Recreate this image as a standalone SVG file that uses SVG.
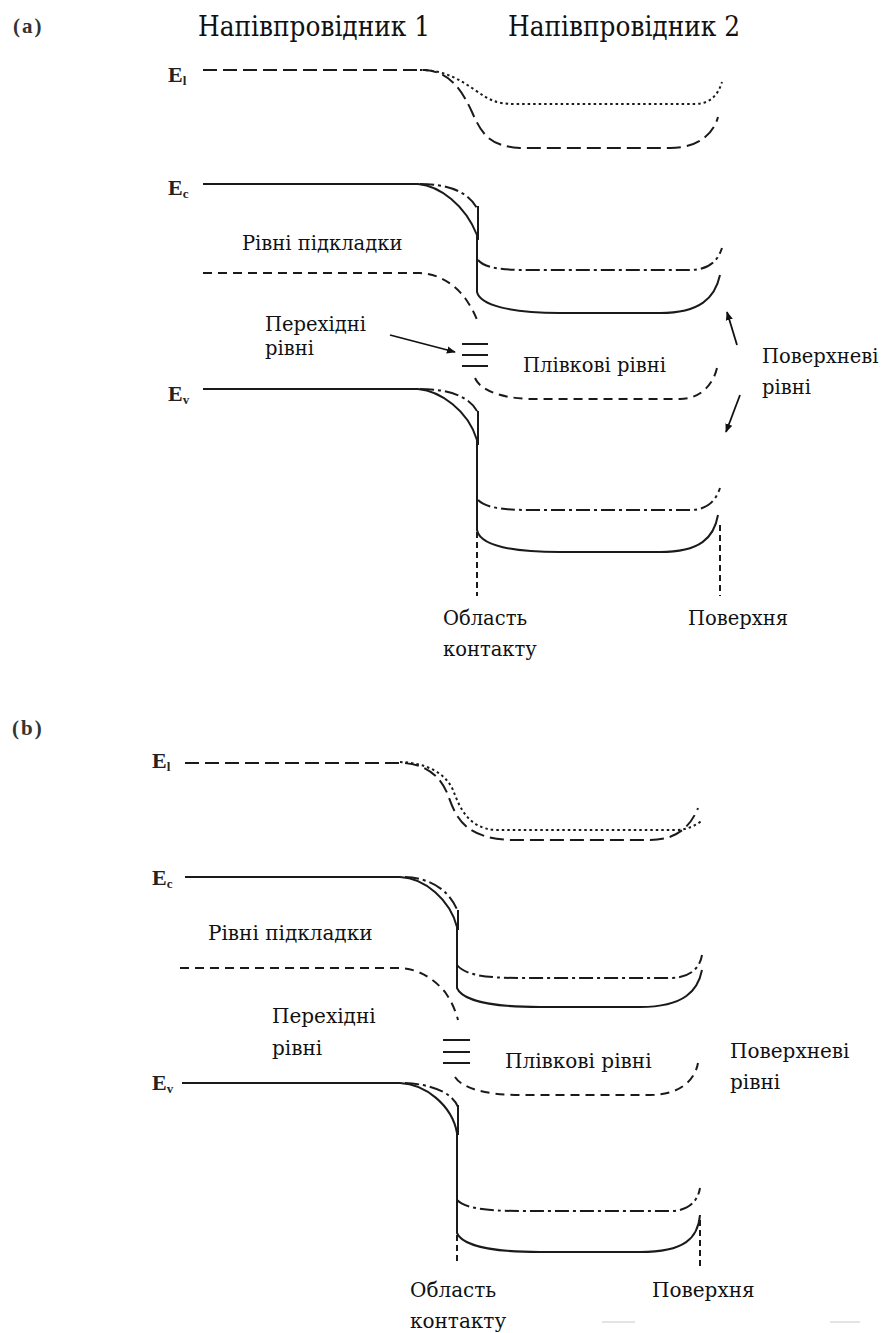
<svg xmlns="http://www.w3.org/2000/svg" width="884" height="1333" viewBox="0 0 884 1333">
<defs>
<marker id="ah" viewBox="0 0 10 10" refX="9" refY="5" markerWidth="5" markerHeight="5" orient="auto" markerUnits="strokeWidth"><path d="M0,1 L10,5 L0,9 z" fill="#111"/></marker>
</defs>
<style>
.t{font-family:"DejaVu Serif",serif;font-size:19.5px;fill:#111}
.tb{font-family:"DejaVu Serif",serif;font-size:20px;fill:#111}
.h{font-family:"DejaVu Serif",serif;font-size:28px;fill:#111}
.p{font-family:"Liberation Serif","DejaVu Serif",serif;font-size:21px;font-weight:bold;fill:#333;letter-spacing:2px}
.e{font-family:"Liberation Serif","DejaVu Serif",serif;font-size:22px;font-weight:bold;fill:#222}
.s{font-size:13px}
.ln{fill:none;stroke:#1a1a1a;stroke-width:2}
.dash{stroke-dasharray:14 6}
.dot{stroke-dasharray:2.5 3}
.sub{stroke-dasharray:9 6}
.dd{stroke-dasharray:14 4 3 4}
.vd{stroke-dasharray:6 4}
.ar{fill:none;stroke:#111;stroke-width:1.8;marker-end:url(#ah)}
.faint{stroke:#c8c8c8;stroke-width:1}
</style>
<rect width="884" height="1333" fill="#fff"/>

<!-- Panel (a) -->
<g id="a-labels">
<text class="p" x="13" y="33">(a)</text>
<text class="h" x="198" y="36" textLength="232" lengthAdjust="spacingAndGlyphs">Напівпровідник 1</text>
<text class="h" x="508" y="36" textLength="232" lengthAdjust="spacingAndGlyphs">Напівпровідник 2</text>
<text class="e" x="168" y="82">E<tspan class="s" dy="3">l</tspan></text>
<text class="e" x="168" y="195">E<tspan class="s" dy="3">c</tspan></text>
<text class="e" x="168" y="401">E<tspan class="s" dy="3">v</tspan></text>
</g>
<g id="a-El">
<path class="ln dash" d="M203,70 H425 C450,72 462,90 472,112 C482,135 490,146 520,148 H670 C700,148 714,132 718,117"/>
<path class="ln dot" d="M420,70 C445,70 460,80 475,90 C488,99 495,104 515,104 H695 C710,104 718,95 722,82"/>
</g>
<g id="a-Ec">
<path class="ln" d="M203,184 H418 C440,186 465,205 477,235 V292 C480,305 510,313 560,313 H660 C700,313 715,298 720,275"/>
<path class="ln" d="M478,206 V240"/>
<path class="ln dd" d="M420,184 C445,184 468,190 478,210"/>
<path class="ln dd" d="M478,260 C485,268 500,270 530,270 H690 C710,270 718,260 722,248"/>
</g>
<g id="a-substrate">
<path class="ln sub" d="M203,273 H420 C440,274 455,285 465,298 C472,308 476,316 478,323"/>
<text class="t" x="242" y="250">Рівні підкладки</text>
</g>
<g id="a-transition">
<path class="ln" d="M462,344 H488 M462,355 H488 M462,366 H488"/>
<text class="t" x="265" y="331">Перехідні</text>
<text class="t" x="265" y="355">рівні</text>
</g>
<g id="a-film">
<path class="ln sub" d="M475,378 C480,390 500,398 530,399 H680 C700,399 713,385 717,368"/>
<text class="t" x="523" y="372">Плівкові рівні</text>
</g>
<g id="a-Ev">
<path class="ln" d="M203,389 H418 C440,391 468,410 477,440 V530 C480,545 510,552 560,552 H660 C700,552 714,538 718,515"/>
<path class="ln" d="M478,411 V445"/>
<path class="ln dd" d="M420,389 C445,389 470,395 478,413"/>
<path class="ln dd" d="M478,500 C485,507 500,510 530,510 H690 C708,510 716,500 720,488"/>
</g>
<g id="a-surface">
<text class="t" x="762" y="363">Поверхневі</text>
<text class="t" x="762" y="394">рівні</text>
</g>
<g id="a-bottom">
<path class="ln vd" d="M477,532 V596 M720,525 V596"/>
<text class="t" x="443" y="625">Область</text>
<text class="t" x="443" y="656">контакту</text>
<text class="t" x="688" y="625">Поверхня</text>
</g>

<!-- Panel (b) -->
<g id="b-labels">
<text class="p" x="12" y="735">(b)</text>
<text class="e" x="152" y="768">E<tspan class="s" dy="3">l</tspan></text>
<text class="e" x="152" y="885">E<tspan class="s" dy="3">c</tspan></text>
<text class="e" x="152" y="1090">E<tspan class="s" dy="3">v</tspan></text>
</g>
<g id="b-El">
<path class="ln dash" d="M185,763 H403 C425,764 440,775 448,795 C456,818 465,838 510,840 H650 C675,840 690,828 698,808"/>
<path class="ln dot" d="M400,762 C425,763 445,772 453,790 C460,808 468,828 495,830 H675 C688,830 696,825 703,820"/>
</g>
<g id="b-Ec">
<path class="ln" d="M185,877 H400 C425,878 450,900 457,927 V988 C462,1000 490,1007 540,1007 H640 C685,1007 698,990 702,970"/>
<path class="ln" d="M458,910 V930"/>
<path class="ln dd" d="M405,877 C430,878 450,890 458,912"/>
<path class="ln dd" d="M457,965 C465,975 485,978 520,978 H670 C690,978 700,968 702,955"/>
</g>
<g id="b-substrate">
<path class="ln sub" d="M180,968 H400 C420,969 435,980 445,992 C452,1002 456,1012 458,1020"/>
<text class="tb" x="208" y="940">Рівні підкладки</text>
</g>
<g id="b-transition">
<path class="ln" d="M443,1040 H470 M443,1052 H470 M443,1063 H470"/>
<text class="tb" x="272" y="1023">Перехідні</text>
<text class="tb" x="272" y="1055">рівні</text>
</g>
<g id="b-film">
<path class="ln sub" d="M455,1077 C462,1088 485,1095 520,1095 H650 C680,1095 695,1080 698,1063"/>
<text class="tb" x="505" y="1068">Плівкові рівні</text>
</g>
<g id="b-Ev">
<path class="ln" d="M182,1083 H400 C425,1084 452,1105 457,1133 V1233 C462,1245 490,1252 540,1252 H640 C685,1252 698,1238 700,1215"/>
<path class="ln" d="M458,1105 V1135"/>
<path class="ln dd" d="M405,1083 C430,1084 452,1092 458,1107"/>
<path class="ln dd" d="M457,1200 C465,1208 485,1211 520,1211 H670 C690,1211 698,1200 700,1188"/>
</g>
<g id="b-surface">
<text class="tb" x="730" y="1058">Поверхневі</text>
<text class="tb" x="730" y="1089">рівні</text>
</g>
<g id="b-bottom">
<path class="ln vd" d="M457,1235 V1265 M700,1220 V1268"/>
<text class="tb" x="410" y="1297">Область</text>
<text class="tb" x="410" y="1328">контакту</text>
<text class="tb" x="652" y="1297">Поверхня</text>
<path class="faint" d="M602,1322 H635 M830,1322 H860"/>
</g>

<g id="connectors">
<path class="ar" d="M390,335 L455,352"/>
<path class="ar" d="M737,345 L727,312"/>
<path class="ar" d="M740,395 L726,432"/>
</g>
</svg>
